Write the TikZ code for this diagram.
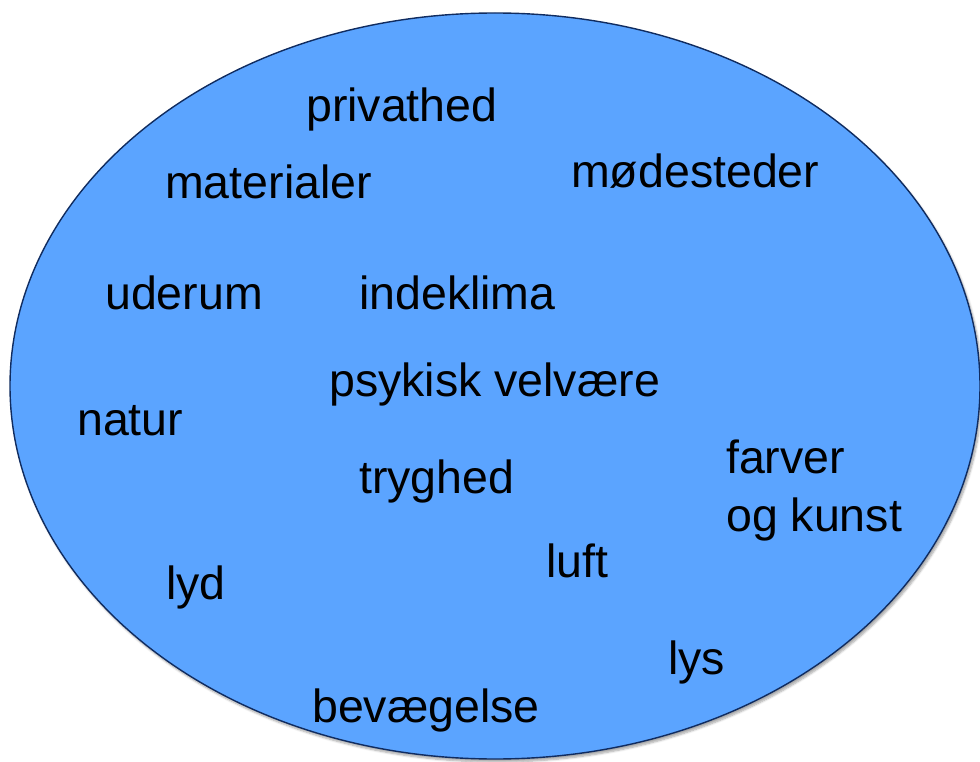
\documentclass[tikz,border=0pt]{standalone}
\usepackage{fontspec}
\setmainfont{Liberation Sans}
\usetikzlibrary{shapes.geometric,shadows.blur}
\definecolor{cloudfill}{RGB}{91,164,255}
\definecolor{cloudline}{RGB}{16,44,96}
\tikzset{
  word/.style={anchor=base west, inner sep=0pt, text=black,
    font=\fontsize{46.5}{58}\selectfont, align=left},
  cloud/.style={ellipse, fill=cloudfill, draw=cloudline, line width=1.4pt,
    inner sep=0pt,
    blur shadow={shadow xshift=2pt, shadow yshift=-3pt,
      shadow blur steps=6, shadow opacity=35}}
}
\begin{document}
\begin{tikzpicture}[x=1pt, y=-1pt]
  \useasboundingbox (0,0) rectangle (980,762);
  \begin{scope}
    \clip (0,0) rectangle (980,762);
    \node[cloud, minimum width=970pt, minimum height=746pt] (cloud) at (495,386) {};
  \end{scope}
  \node[word] (privathed) at (306,122) {privathed};
  \node[word] (materialer) at (165,199) {materialer};
  \node[word] (modesteder) at (571,188) {mødesteder};
  \node[word] (uderum) at (105,309) {uderum};
  \node[word] (indeklima) at (359,309) {indeklima};
  \node[word] (psykisk) at (329,396) {psykisk velvære};
  \node[word] (natur) at (77,435) {natur};
  \node[word] (tryghed) at (359,493) {tryghed};
  % multi-line node: its base is the last line's baseline
  \node[word] (farver) at (726,531) {farver\\og kunst};
  \node[word] (luft) at (546,577) {luft};
  \node[word] (lyd) at (166,599) {lyd};
  \node[word] (lys) at (668,674) {lys};
  \node[word] (bevaegelse) at (312,722) {bevægelse};
\end{tikzpicture}
\end{document}
